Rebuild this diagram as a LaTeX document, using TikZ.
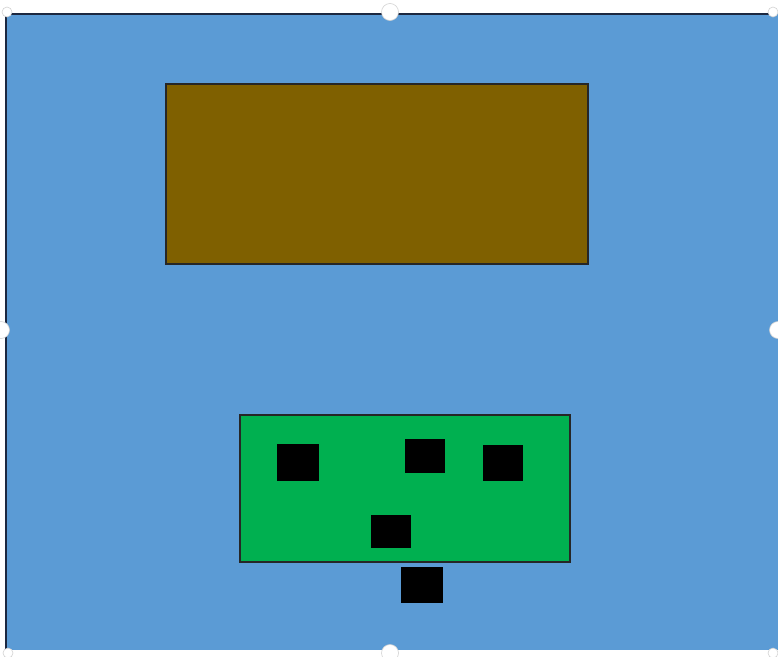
\documentclass[tikz,border=0pt]{standalone}
\definecolor{bgblue}{HTML}{5B9BD5}
\definecolor{brownbox}{HTML}{7F6000}
\definecolor{greenbox}{HTML}{00B050}
\definecolor{edgeline}{HTML}{1C2840}
\tikzset{
  panel/.style={draw=black!85, line width=1.5pt},
  chip/.style={fill=black},
  handle/.style={circle, fill=white, draw=gray!35, line width=0.6pt, minimum size=17pt, inner sep=0pt},
}
\begin{document}
\begin{tikzpicture}[x=1pt,y=-1pt]
\useasboundingbox (0,0) rectangle (778,656);
\fill[white] (0,0) rectangle (778,656);
% background blue panel
\fill[bgblue] (6,14) rectangle (778,650);
\draw[edgeline, line width=2pt] (6,650) -- (6,14) -- (772,14);
% brown box
\draw[panel, fill=brownbox] (166,84) rectangle (588,264);
% green box
\draw[panel, fill=greenbox] (240,415) rectangle (570,562);
% black squares
\fill[chip] (277,444) rectangle (319,481);
\fill[chip] (405,439) rectangle (445,473);
\fill[chip] (483,445) rectangle (523,481);
\fill[chip] (371,515) rectangle (411,548);
\fill[chip] (401,567) rectangle (443,603);
% selection handles
\node[handle] (htm) at (390,12) {};
\node[handle] (hlm) at (1,330) {};
\node[handle] (hrm) at (778,330) {};
\node[handle] (hbm) at (390,653) {};
\node[handle, minimum size=10pt] (htl) at (7,12) {};
\node[handle, minimum size=10pt] (htr) at (773,12) {};
\node[handle, minimum size=10pt] (hbl) at (8,653) {};
\node[handle, minimum size=10pt] (hbr) at (773,653) {};
\end{tikzpicture}
\end{document}
